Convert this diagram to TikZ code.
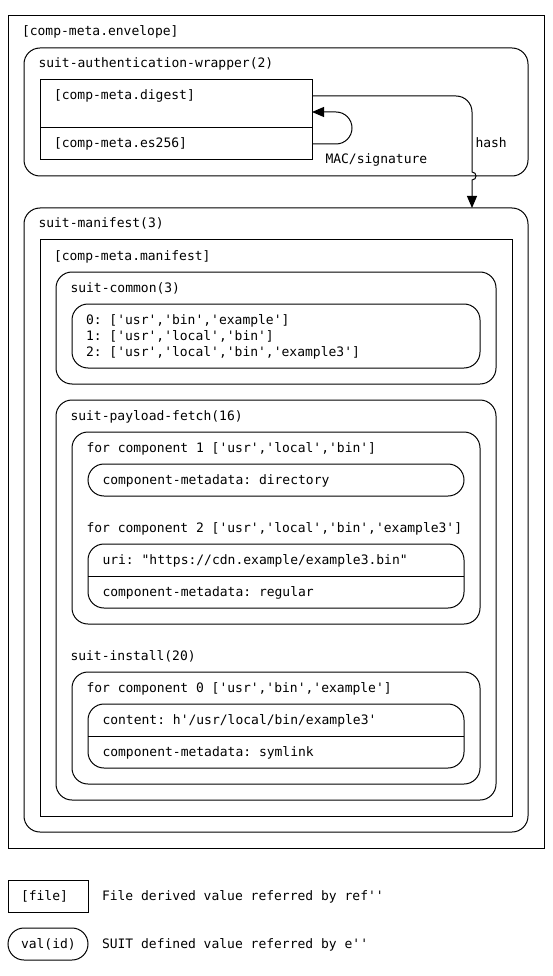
\documentclass[tikz,border=0pt]{standalone}
\usepackage{fontspec}
\setmonofont{DejaVu Sans Mono}
\usetikzlibrary{arrows.meta}
\newcommand\mytxtfont{\ttfamily\fontsize{13}{16}\selectfont}
\tikzset{
  box/.style={draw=black, line width=1pt, anchor=north west, inner sep=0pt, outer sep=0pt},
  rbox/.style={box, rounded corners=16pt},
  sbox/.style={box},
  txt/.style={anchor=base west, inner sep=0pt, outer sep=0pt, font=\mytxtfont, text=black},
  conn/.style={draw=black, line width=1pt},
  arr/.style={conn, -{Triangle[length=12pt,width=10pt]}},
}
\begin{document}
\begin{tikzpicture}[x=1pt,y=-1pt]
\useasboundingbox (0,0) rectangle (552,976);
\fill[white] (0,0) rectangle (552,976);
% containers
\node[sbox, minimum width=536pt, minimum height=832pt] (env) at (8,16) {};
\node[rbox, minimum width=504pt, minimum height=128pt] (auth) at (24,48) {};
\node[sbox, minimum width=272pt, minimum height=80pt] (sig) at (40,80) {};
\draw[conn] (sig.west |- 0,128) -- (sig.east |- 0,128);
\node[rbox, minimum width=504pt, minimum height=624pt] (man) at (24,208) {};
\node[sbox, minimum width=472pt, minimum height=576pt] (mrect) at (40,240) {};
\node[rbox, minimum width=440pt, minimum height=112pt] (common) at (56,272) {};
\node[rbox, minimum width=408pt, minimum height=64pt] (list) at (72,304) {};
\node[rbox, minimum width=440pt, minimum height=400pt] (fetch) at (56,400) {};
\node[rbox, minimum width=408pt, minimum height=192pt] (fc1) at (72,432) {};
\node[rbox, minimum width=376pt, minimum height=32pt] (dir) at (88,464) {};
\node[rbox, minimum width=376pt, minimum height=64pt] (uri) at (88,544) {};
\draw[conn] (uri.west |- 0,576) -- (uri.east |- 0,576);
\node[rbox, minimum width=408pt, minimum height=112pt] (fc0) at (72,672) {};
\node[rbox, minimum width=376pt, minimum height=64pt] (cont) at (88,704) {};
\draw[conn] (cont.west |- 0,736) -- (cont.east |- 0,736);
% legend boxes
\node[sbox, minimum width=80pt, minimum height=32pt] (lfile) at (8,880) {};
\node[rbox, minimum width=80pt, minimum height=32pt] (lval) at (8,928) {};
% texts
\node[txt] (tenv) at (22,36) {[comp-meta.envelope]};
\node[txt] (tauth) at (38.5,68) {suit-authentication-wrapper(2)};
\node[txt] (tdg) at (54,100) {[comp-meta.digest]};
\node[txt] (tes) at (54,148) {[comp-meta.es256]};
\node[txt] (tmac) at (325.5,163.5) {MAC/signature};
\node[txt] (thash) at (475.5,147.5) {hash};
\node[txt] (tman) at (38.5,228) {suit-manifest(3)};
\node[txt] (tmr) at (54,260) {[comp-meta.manifest]};
\node[txt] (tcom) at (70.5,292) {suit-common(3)};
\node[txt] (tl0) at (86,324) {0: ['usr','bin','example']};
\node[txt] (tl1) at (86,340) {1: ['usr','local','bin']};
\node[txt] (tl2) at (86,356) {2: ['usr','local','bin','example3']};
\node[txt] (tfetch) at (70.5,420) {suit-payload-fetch(16)};
\node[txt] (tfc1) at (86.5,452) {for component 1 ['usr','local','bin']};
\node[txt] (tdir) at (102.5,484) {component-metadata: directory};
\node[txt] (tfc2) at (86.5,532) {for component 2 ['usr','local','bin','example3']};
\node[txt] (turi) at (102.5,564) {uri: "https://cdn.example/example3.bin"};
\node[txt] (treg) at (102.5,596) {component-metadata: regular};
\node[txt] (tinst) at (70.5,660) {suit-install(20)};
\node[txt] (tfc0) at (86.5,692) {for component 0 ['usr','bin','example']};
\node[txt] (tcont) at (102.5,724) {content: h'/usr/local/bin/example3'};
\node[txt] (tsym) at (102.5,756) {component-metadata: symlink};
\node[txt] (tlf) at (21,900) {[file]};
\node[txt] (tlfd) at (102,900) {File derived value referred by ref''};
\node[txt] (tlv) at (21,948) {val(id)};
\node[txt] (tlvd) at (102,948) {SUIT defined value referred by e''};
% connector coordinates
\path (sig.north east) ++(0,16) coordinate (h0);
\path (sig.north east) ++(0,32) coordinate (l1);
\path (sig.north east) ++(0,64) coordinate (l0);
\path (man.north west) ++(448,0) coordinate (h1);
% hash arrow
\draw[arr] (h0) -- (456,96) .. controls (464.84,96) and (472,103.16) .. (472,112)
  -- (472,172) .. controls (477.33,172) and (477.33,180) .. (472,180) -- (h1);
% MAC/signature loop
\draw[arr, rounded corners=16pt] (l0) -- (352,144) -- (352,112) -- (l1);
\end{tikzpicture}
\end{document}
